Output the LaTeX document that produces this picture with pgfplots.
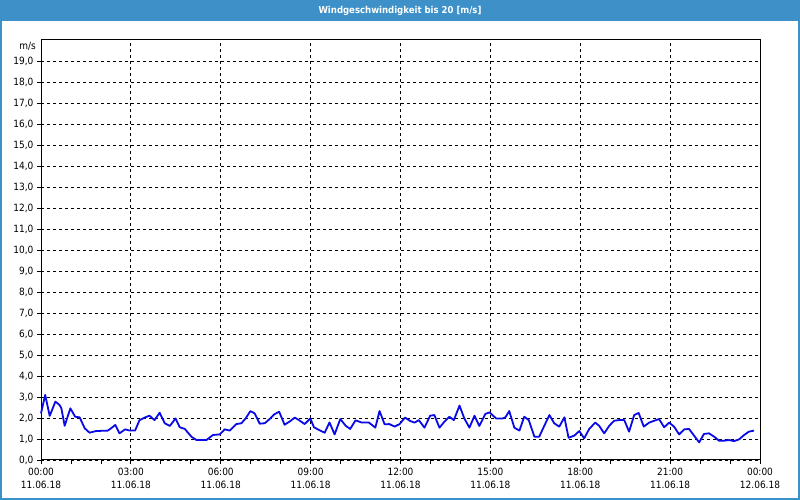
\documentclass[border=0pt]{standalone}
\usepackage{fontspec}
\setmainfont{DejaVu Sans Condensed}
\usepackage{pgfplots}
\pgfplotsset{compat=1.18}
\definecolor{barblue}{RGB}{61,145,200}
\definecolor{lineblue}{RGB}{10,10,230}

\begin{document}
\begin{tikzpicture}[x=1pt,y=1pt]
\path[use as bounding box] (0,0) rectangle (800,500);
\fill[white] (0,0) rectangle (800,500);
\fill[barblue] (0,479) rectangle (800,500);
\draw[barblue, line width=2pt] (1,1) rectangle (799,499);
\node[white, font=\bfseries\fontsize{9.5}{11}\selectfont] at (400,489.5) {Windgeschwindigkeit bis 20 [m/s]};

\begin{axis}[
at={(41pt,40pt)}, anchor=south west,
scale only axis,
width=719pt, height=420pt,
xmin=0, xmax=24,
ymin=0, ymax=20,
xtick={0,3,...,24},
minor xtick={0,...,24},
xticklabels={00:00\\11.06.18, 03:00\\11.06.18, 06:00\\11.06.18, 09:00\\11.06.18,
  12:00\\11.06.18, 15:00\\11.06.18, 18:00\\11.06.18, 21:00\\11.06.18, 00:00\\12.06.18},
xticklabel style={align=center, font=\fontsize{10}{13}\selectfont, yshift=-1pt},
ytick={0,...,19},
yticklabel style={font=\fontsize{10}{12}\selectfont},
/pgf/number format/.cd, fixed, fixed zerofill, precision=1, use comma, assume math mode=true,
/pgfplots/.cd,
tick align=outside,
xtick pos=bottom, ytick pos=left,
major tick length=4pt, minor tick length=4pt,
tick style={black, line width=0.8pt},
axis line style={black, line width=1pt},
xmajorgrids, ymajorgrids,
major grid style={black, line width=0.8pt, dash pattern=on 3pt off 3pt},
clip=false,
]
\addplot[lineblue, line width=1.8pt, line join=round] coordinates {
(0,2.22) (0.14,3.1) (0.29,2.1) (0.48,2.78) (0.62,2.62) (0.68,2.46) (0.79,1.63)
(0.98,2.46) (1.14,2.06) (1.29,2.03) (1.46,1.51) (1.62,1.3) (1.84,1.38) (2.23,1.40)
(2.34,1.51) (2.48,1.67) (2.62,1.27) (2.81,1.46) (2.96,1.40) (3.14,1.40) (3.29,1.9)
(3.46,2.02) (3.62,2.11) (3.79,1.9) (3.96,2.25) (4.13,1.75) (4.3,1.62) (4.49,1.98)
(4.63,1.56) (4.8,1.48) (5.02,1.11) (5.19,0.95) (5.52,0.95) (5.74,1.19) (5.97,1.22)
(6.13,1.46) (6.3,1.40) (6.52,1.71) (6.69,1.75) (6.83,1.98) (6.99,2.33) (7.13,2.22)
(7.3,1.73) (7.47,1.75) (7.63,1.95) (7.78,2.17) (7.95,2.3) (8.13,1.68) (8.3,1.83)
(8.47,2.02) (8.61,1.9) (8.8,1.71) (8.99,1.98) (9.11,1.56) (9.28,1.43) (9.47,1.3)
(9.63,1.79) (9.8,1.22) (9.99,1.95) (10.17,1.63) (10.32,1.48) (10.5,1.89) (10.69,1.79)
(10.94,1.79) (11.16,1.54) (11.3,2.33) (11.47,1.70) (11.63,1.71) (11.8,1.59) (11.97,1.71)
(12.15,2.02) (12.32,1.86) (12.47,1.78) (12.61,1.9) (12.8,1.54) (12.99,2.11) (13.13,2.14)
(13.3,1.54) (13.47,1.83) (13.63,2.06) (13.78,1.9) (13.97,2.59) (14.13,1.98) (14.3,1.54)
(14.47,2.11) (14.63,1.62) (14.83,2.19) (14.97,2.27) (15.19,1.98) (15.41,1.98) (15.5,2.03)
(15.63,2.33) (15.8,1.54) (15.97,1.40) (16.13,2.06) (16.28,1.9) (16.47,1.11) (16.63,1.11)
(16.8,1.63) (16.97,2.14) (17.13,1.75) (17.3,1.59) (17.47,2.03) (17.61,1.06) (17.8,1.16)
(17.97,1.38) (18.13,1.03) (18.3,1.48) (18.5,1.78) (18.63,1.63) (18.8,1.27) (18.97,1.63)
(19.13,1.87) (19.3,1.9) (19.47,1.9) (19.63,1.35) (19.8,2.14) (19.95,2.24) (20.12,1.59)
(20.3,1.78) (20.47,1.87) (20.63,1.95) (20.8,1.56) (20.97,1.78) (21.13,1.59) (21.3,1.22)
(21.47,1.46) (21.63,1.48) (21.8,1.16) (21.97,0.84) (22.13,1.24) (22.3,1.27) (22.47,1.11)
(22.63,0.92) (22.8,0.92) (22.97,0.95) (23.13,0.9) (23.3,0.98) (23.47,1.19) (23.63,1.35)
(23.8,1.40)
};
\node[anchor=east, inner sep=0pt, font=\fontsize{10}{12}\selectfont] at (rel axis cs:0,1) [xshift=-5pt, yshift=-6.5pt] {m/s};
\end{axis}
\end{tikzpicture}
\end{document}
